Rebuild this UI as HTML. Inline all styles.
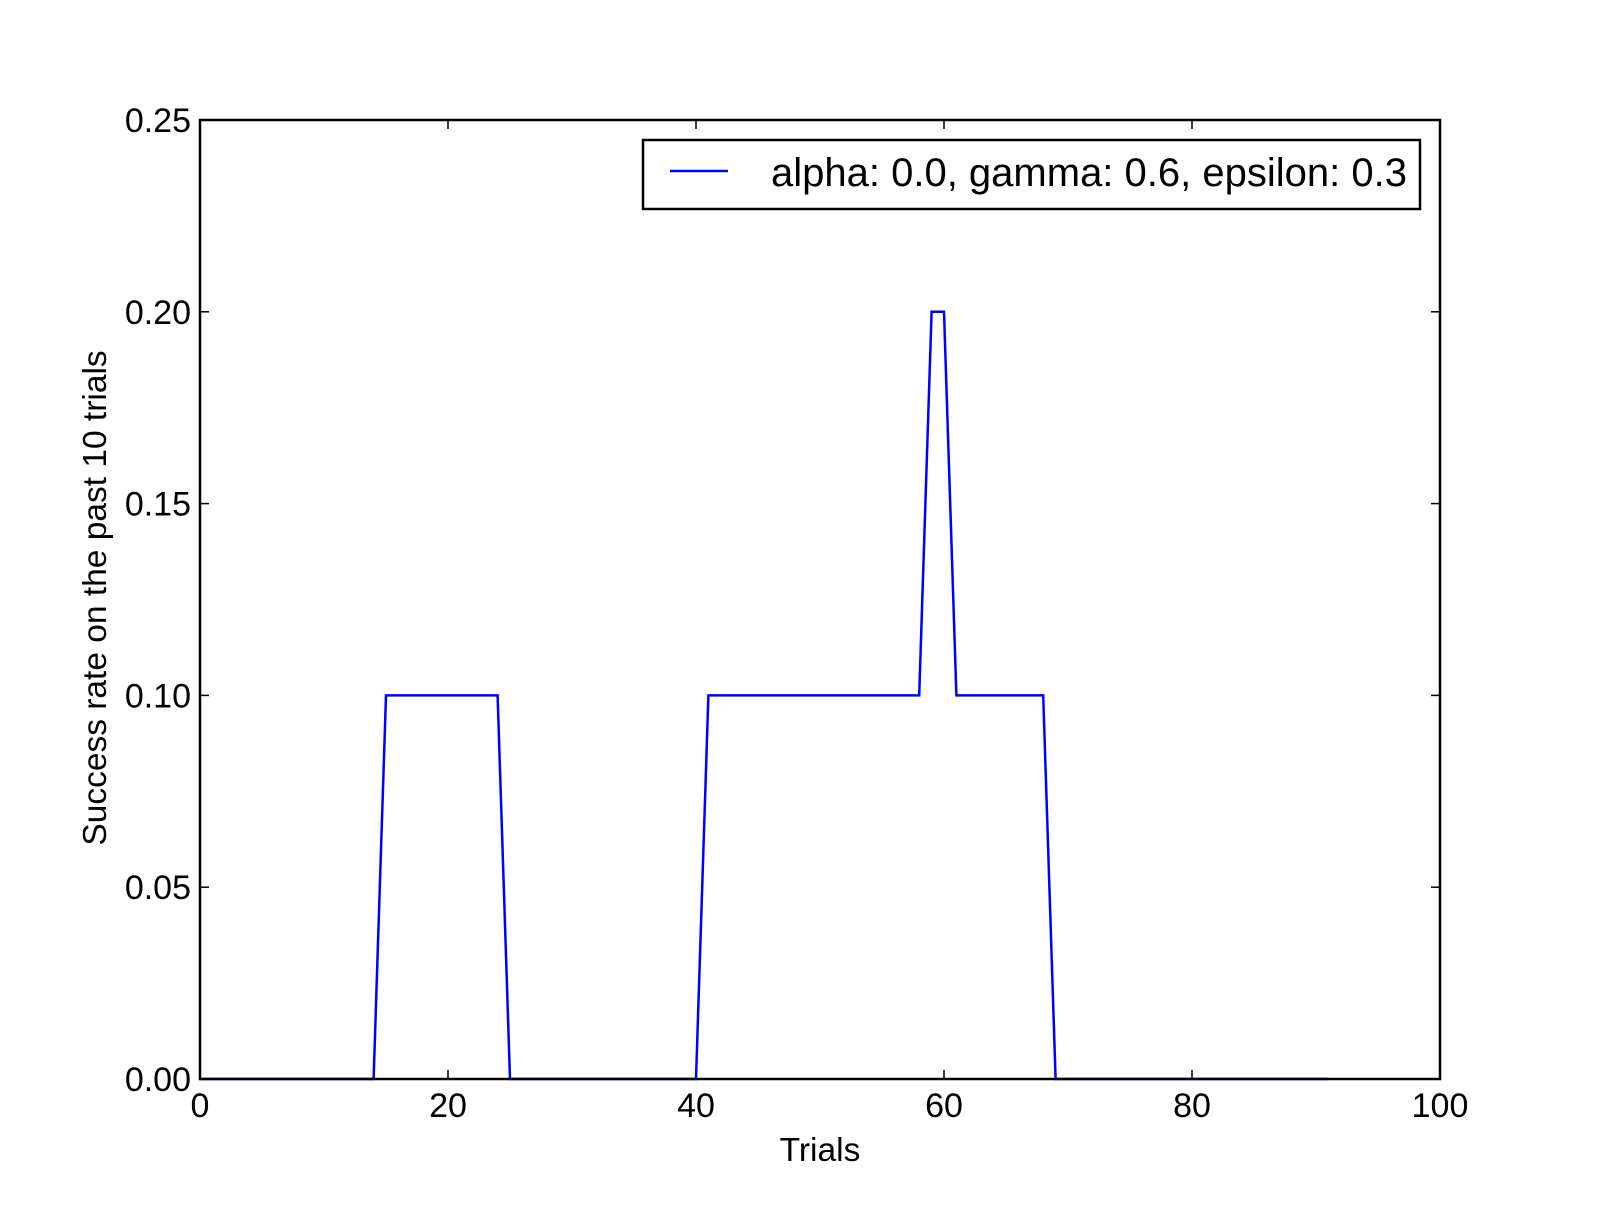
<!DOCTYPE html>
<html><head><meta charset="utf-8"><style>
html,body{margin:0;padding:0;background:#fff;}
svg text{font-family:"Liberation Sans",sans-serif;fill:#000;}
</style></head><body>
<svg id="chart" width="1600" height="1200" xmlns="http://www.w3.org/2000/svg">
<g id="ticks"></g>
<path id="series" fill="none" stroke="#0000ff" stroke-width="2.5"/>
<rect x="200" y="120" width="1240" height="959" fill="none" stroke="#000" stroke-width="2.5"/>
<g>
<rect x="643" y="140" width="777" height="69" fill="#fff" stroke="#000" stroke-width="2.5"/>
<line x1="670" y1="171" x2="728" y2="171" stroke="#0000ff" stroke-width="2.5"/>
<text x="771" y="186" font-size="40">alpha: 0.0, gamma: 0.6, epsilon: 0.3</text>
</g>
<text x="820" y="1161" font-size="33.5" text-anchor="middle">Trials</text>
<text transform="translate(106,598) rotate(-90)" font-size="33.5" text-anchor="middle">Success rate on the past 10 trials</text>
</svg>
<script>
const xTicks = [0, 20, 40, 60, 80, 100];
const yTicks = [0, 0.05, 0.10, 0.15, 0.20, 0.25];
const yTickLabels = ["0.00", "0.05", "0.10", "0.15", "0.20", "0.25"];
const trials = [];
for (let i = 0; i <= 91; i++) trials.push(i);
const segStarts = [0, 15, 25, 41, 59, 61, 69];
const segValues = [0, 0.1, 0, 0.1, 0.2, 0.1, 0];
const rates = trials.map(t => { let v = 0; for (let k = 0; k < segStarts.length; k++) if (t >= segStarts[k]) v = segValues[k]; return v; });

const L = 200, R = 1440, T = 120, B = 1079;
const xS = v => L + (v - 0) / 100 * (R - L);
const yS = v => B - (v - 0) / 0.25 * (B - T);
const NS = "http://www.w3.org/2000/svg";
const tg = document.getElementById('ticks');
function mk(tag, attrs) { const e = document.createElementNS(NS, tag); for (const k in attrs) e.setAttribute(k, attrs[k]); return e; }
xTicks.forEach((v, i) => {
  const x = xS(v);
  const t1 = mk('line', {x1: x, y1: B, x2: x, y2: B - 9, stroke: '#000', 'stroke-width': 1.5});
  
  
  tg.appendChild(t1);
  const t2 = mk('line', {x1: x, y1: T, x2: x, y2: T + 9, stroke: '#000', 'stroke-width': 1.5});
  
  
  tg.appendChild(t2);
  const lb = mk('text', {x: x, y: 1117, 'font-size': 34, 'text-anchor': 'middle'});
  lb.textContent = String(v);
  
  
  tg.appendChild(lb);
});
yTicks.forEach((v, i) => {
  const y = yS(v);
  const t1 = mk('line', {x1: L, y1: y, x2: L + 9, y2: y, stroke: '#000', 'stroke-width': 1.5});
  
  
  tg.appendChild(t1);
  const t2 = mk('line', {x1: R, y1: y, x2: R - 9, y2: y, stroke: '#000', 'stroke-width': 1.5});
  
  
  tg.appendChild(t2);
  const lb = mk('text', {x: 191, y: y + 12, 'font-size': 34, 'text-anchor': 'end'});
  lb.textContent = yTickLabels[i];
  
  
  tg.appendChild(lb);
});
document.getElementById('series').setAttribute('d', trials.map((t, i) => (i ? 'L' : 'M') + xS(t).toFixed(1) + ',' + yS(rates[i]).toFixed(1)).join(' '));
</script>
</body></html>
